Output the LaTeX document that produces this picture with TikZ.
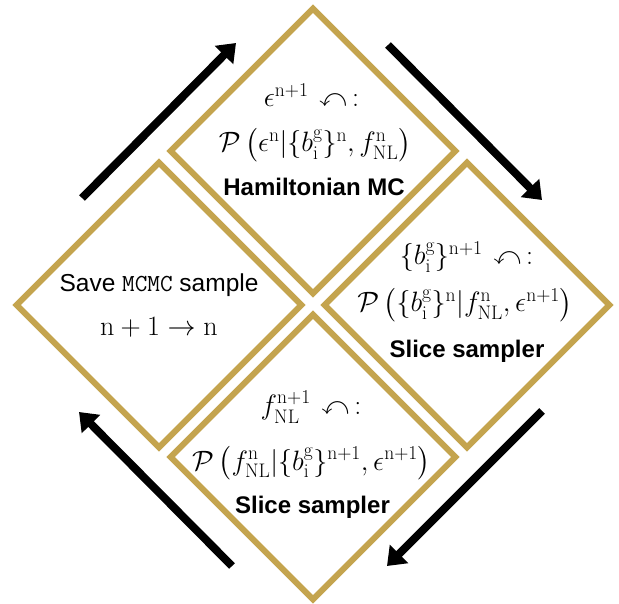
\RequirePackage{fix-cm}
\documentclass[tikz,border=0pt]{standalone}
\usepackage{amsmath,amssymb}
\usepackage{fontspec}
\newfontfamily\hv{Liberation Sans}
\usetikzlibrary{arrows.meta}
\definecolor{gold}{RGB}{196,164,78}
\newcommand{\rmn}{\mathrm{n}}
\newcommand{\upd}{\mkern7mu{\curvearrowleft}\mkern3mu{:}}
\newcommand{\bset}{\{b_{\mathrm{i}}^{\mathrm{g}}\}}
\tikzset{
 dmd/.style={draw=gold, line width=6pt, line join=miter},
 flowarrow/.style={line width=8pt, -{Triangle[length=17pt,width=25pt]}},
 mtxt/.style={font=\fontsize{28}{37}\selectfont, inner sep=0pt},
 btxt/.style={font=\hv\bfseries\fontsize{24}{28}\selectfont, inner sep=0pt},
 stxt/.style={font=\hv\fontsize{24.5}{28}\selectfont, inner sep=0pt},
}
\begin{document}
\begin{tikzpicture}[x=1pt,y=-1pt]
\useasboundingbox (0,0) rectangle (619,604);
\def\h{142.3}
% diamonds
\draw[dmd] (313,151-\h) -- (313+\h,151) -- (313,151+\h) -- (313-\h,151) -- cycle;
\draw[dmd] (159,305-\h) -- (159+\h,305) -- (159,305+\h) -- (159-\h,305) -- cycle;
\draw[dmd] (467,305-\h) -- (467+\h,305) -- (467,305+\h) -- (467-\h,305) -- cycle;
\draw[dmd] (313,457-\h) -- (313+\h,457) -- (313,457+\h) -- (313-\h,457) -- cycle;
% top diamond text
\node[mtxt] (t1) at (311.5,95) {${\epsilon^{\mathrm{n+1}}}\upd$};
\node[mtxt] (t2) at (315,145) {$\mathcal{P}\,\bigl(\epsilon^{\rmn}|\bset^{\rmn}, f_{\mathrm{NL}}^{\rmn}\bigr)$};
\node[btxt] (t3) at (314,187) {Hamiltonian MC};
% right diamond text
\node[mtxt] (r1) at (466.5,257) {${\bset^{\mathrm{n+1}}}\upd$};
\node[mtxt] (r2) at (465,305) {$\mathcal{P}\,\bigl(\bset^{\rmn}|f_{\mathrm{NL}}^{\rmn}, \epsilon^{\mathrm{n+1}}\bigr)$};
\node[btxt] (r3) at (467,351) {Slice sampler};
% bottom diamond text
\node[mtxt] (b1) at (311,407) {${f_{\mathrm{NL}}^{\mathrm{n+1}}}\upd$};
\node[mtxt] (b2) at (311.5,463) {$\mathcal{P}\,\bigl(f_{\mathrm{NL}}^{\rmn}|\bset^{\mathrm{n+1}}, \epsilon^{\mathrm{n+1}}\bigr)$};
\node[btxt] (b3) at (312.5,507) {Slice sampler};
% left diamond text
\node[stxt] (l1) at (159,285) {Save \texttt{MCMC} sample};
\node[mtxt] (l2) at (159,327) {$\mathrm{n}+1\rightarrow\mathrm{n}$};
% arrows
\coordinate (a1s) at (82,198); \coordinate (a1e) at (236,43);
\coordinate (a2s) at (388,45); \coordinate (a2e) at (542,200);
\coordinate (a3s) at (542,411); \coordinate (a3e) at (387,566);
\coordinate (a4s) at (232,566); \coordinate (a4e) at (79,412);
\draw[flowarrow] (a1s) -- (a1e);
\draw[flowarrow] (a2s) -- (a2e);
\draw[flowarrow] (a3s) -- (a3e);
\draw[flowarrow] (a4s) -- (a4e);
\end{tikzpicture}
\end{document}
